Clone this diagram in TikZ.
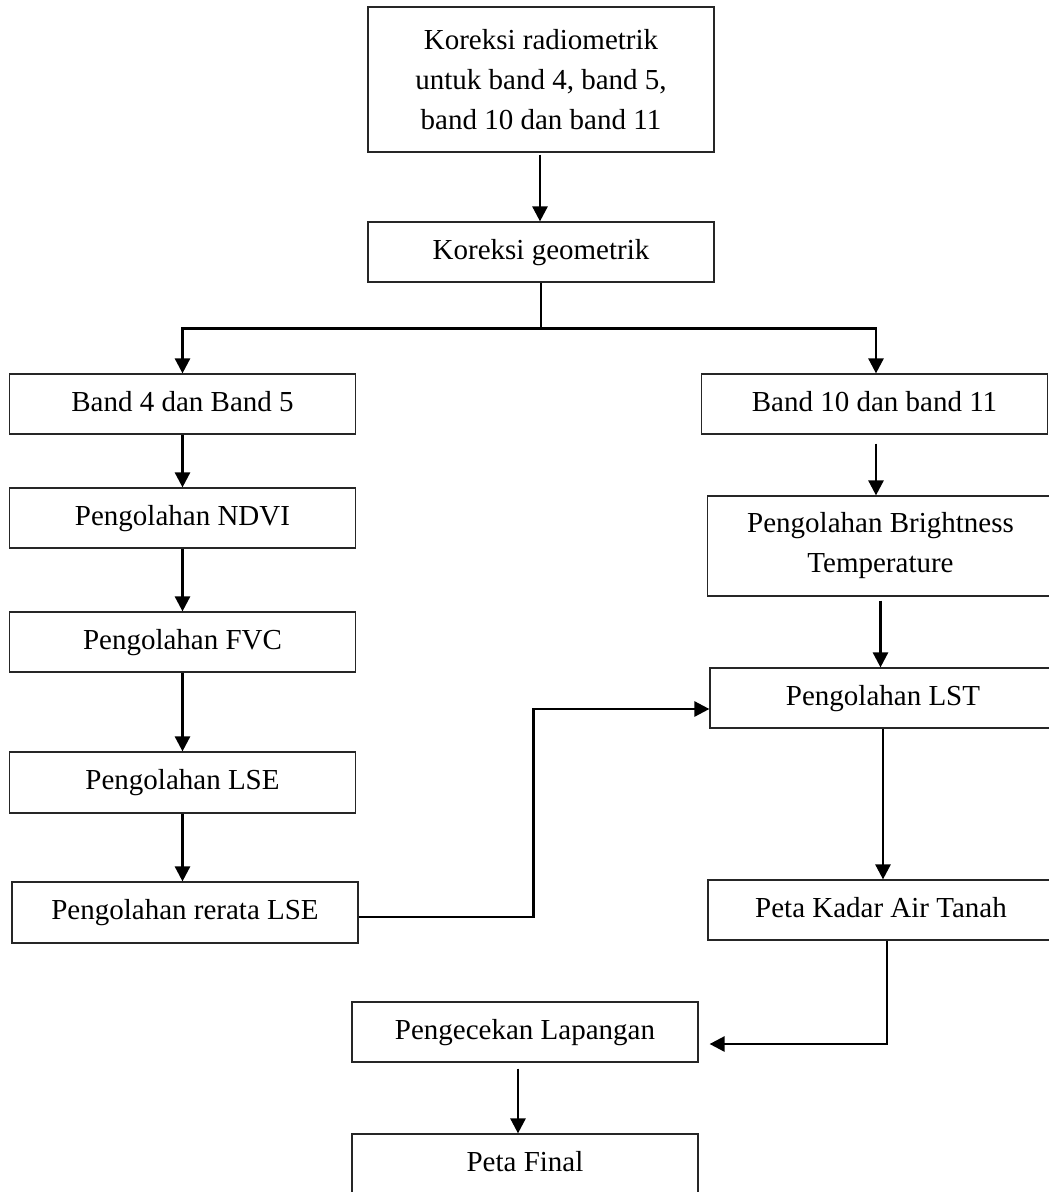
\documentclass[tikz,border=0pt]{standalone}
\usepackage{fontspec}
\setmainfont{Liberation Serif}
\usetikzlibrary{arrows.meta,calc}
\begin{document}
\begin{tikzpicture}[x=1pt,y=-1pt,
  box/.style={draw=black!85, line width=1.2pt, minimum width=346pt, minimum height=60pt,
    inner sep=0pt, align=center, font=\fontsize{29}{40}\selectfont},
  one/.style={text height=20pt, text depth=6pt},
  arr/.style={line width=2.6pt, -{Triangle[length=15pt,width=15pt]}},
  ln/.style={line width=2.6pt}]
\useasboundingbox (0,0) rectangle (1049,1192);
\clip (0,0) rectangle (1049,1192);
\fill[white] (0,0) rectangle (1049,1192);

\node[box, minimum height=145pt] (rad) at (541,79.5) {Koreksi radiometrik\\untuk band 4, band 5,\\band 10 dan band 11};
\node[box, one] (geo) at (541,252) {Koreksi geometrik};
\node[box, one] (b45) at (182.5,404) {Band 4 dan Band 5};
\node[box, one] (ndvi) at (182.5,518) {Pengolahan NDVI};
\node[box, one] (fvc) at (182.5,642) {Pengolahan FVC};
\node[box, one, minimum height=61pt] (lse) at (182.5,782.5) {Pengolahan LSE};
\node[box, one, minimum height=61pt] (rer) at (185,912.5) {Pengolahan rerata LSE};
\node[box, one] (b1011) at (874.5,404) {Band 10 dan band 11};
\node[box, minimum height=100pt] (bt) at (880.5,546) {Pengolahan Brightness\\Temperature};
\node[box, one] (lst) at (883,698) {Pengolahan LST};
\node[box, one] (kad) at (881,910) {Peta Kadar Air Tanah};
\node[box, one] (cek) at (525,1032) {Pengecekan Lapangan};
\node[box, one] (fin) at (525,1164) {Peta Final};

% connectors
\draw[arr] ($(rad.south)+(-1,2)$) -- ($(geo.north)+(-1,0)$);
\coordinate (split) at ($(geo.south)+(0,46)$);
\draw[ln] (geo.south) -- (split);
\draw[arr] (split) -| (b45.north);
\draw[arr] (split) -| ($(b1011.north)+(1.5,0)$);

\draw[arr] (b45.south) -- (ndvi.north);
\draw[arr] (ndvi.south) -- (fvc.north);
\draw[arr] (fvc.south) -- (lse.north);
\draw[arr] (lse.south) -- (lse.south |- rer.north);
\draw[arr] ([yshift=-4.5pt]rer.east) -- ++(175,0) |- ([yshift=-11pt]lst.west);

\draw[arr] ($(b1011.south)+(1.5,9)$) -- ($(b1011.south |- bt.north)+(1.5,0)$);
\draw[arr] ([yshift=-4pt]bt.south) -- (bt.south |- lst.north);
\draw[arr] (lst.south) -- (lst.south |- kad.north);
\draw[arr] ([xshift=6pt]kad.south) |- ([xshift=11pt,yshift=-12pt]cek.east);
\draw[arr] ([xshift=-7pt,yshift=-6pt]cek.south) -- ([xshift=-7pt]fin.north);
\end{tikzpicture}
\end{document}
